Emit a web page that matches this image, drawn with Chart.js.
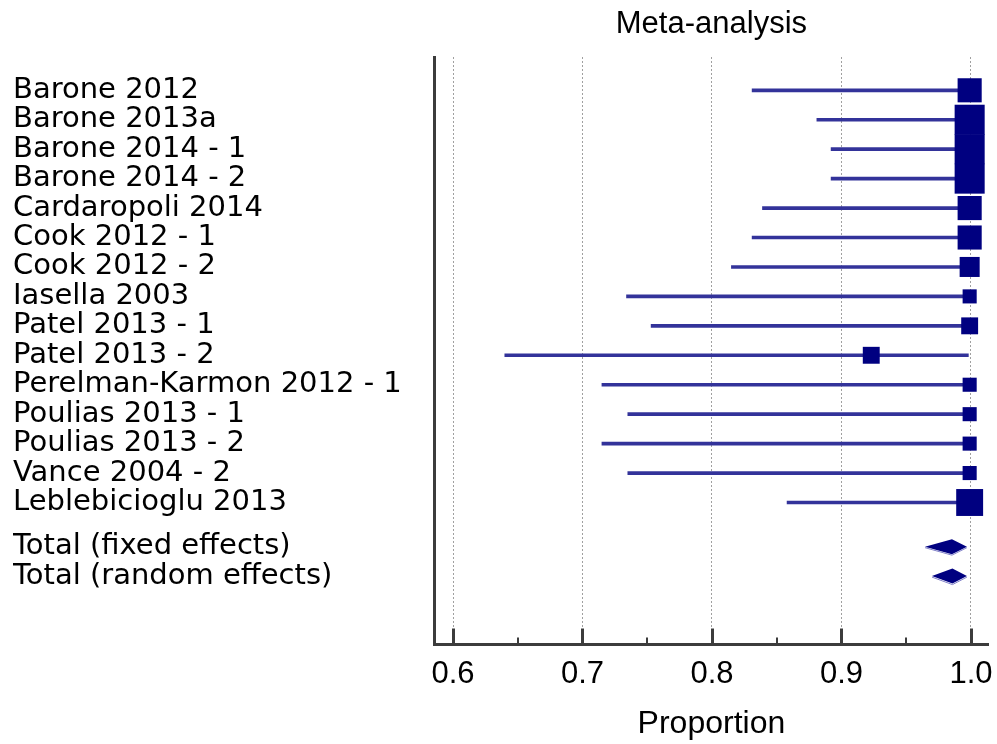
<!DOCTYPE html>
<html>
<head>
<meta charset="utf-8">
<script src="https://cdn.jsdelivr.net/npm/chart.js@4.4.1/dist/chart.umd.min.js"></script>
<style>
html, body { margin: 0; padding: 0; background: #ffffff; }
canvas { display: block; }
</style>
</head>
<body>
<canvas id="c" width="997" height="744"></canvas>
<script>
// ---------- data ----------
const studies = [
  "Barone 2012", "Barone 2013a", "Barone 2014 - 1", "Barone 2014 - 2",
  "Cardaropoli 2014", "Cook 2012 - 1", "Cook 2012 - 2", "Iasella 2003",
  "Patel 2013 - 1", "Patel 2013 - 2", "Perelman-Karmon 2012 - 1",
  "Poulias 2013 - 1", "Poulias 2013 - 2", "Vance 2004 - 2", "Leblebicioglu 2013"
];
const lowerCI   = [0.831, 0.881, 0.892, 0.892, 0.839, 0.831, 0.815, 0.734, 0.753, 0.640, 0.715, 0.735, 0.715, 0.735, 0.858];
const estimates = [0.999, 0.999, 0.999, 0.999, 0.999, 0.999, 0.999, 0.999, 0.999, 0.923, 0.999, 0.999, 0.999, 0.999, 0.999];
const upperCI   = [1.000, 1.000, 1.000, 1.000, 1.000, 1.000, 1.000, 1.000, 1.000, 0.998, 1.000, 1.000, 1.000, 1.000, 1.000];
const weights   = [7.7, 9.6, 9.6, 9.6, 7.7, 7.7, 6.4, 4.5, 5.4, 5.4, 4.5, 4.5, 4.5, 4.5, 8.6];

const totalLabels = ["Total (fixed effects)", "Total (random effects)"];
const totalLower  = [0.9645, 0.9699];
const totalEst    = [0.9853, 0.9857];
const totalUpper  = [0.9969, 0.9969];

const xMajorTicks = [0.6, 0.7, 0.8, 0.9, 1.0];
const xMinorTicks = [0.65, 0.75, 0.85, 0.95];
const chartTitle = "Meta-analysis";
const xAxisTitle = "Proportion";

// ---------- layout helpers ----------
const studyRows = studies.map((_, i) => i + 1);
const totalRows = totalLabels.map((_, j) => studies.length + 1.5 + j);
const rowLabels = new Map();
studyRows.forEach((r, i) => rowLabels.set(r, studies[i]));
totalRows.forEach((r, j) => rowLabels.set(r, totalLabels[j]));
const SQUARE_PX_PER_WEIGHT = 3.13;
const AXIS_COLOR = '#3c3c3c';
const NAVY = '#000080';
const CI_COLOR = '#33339a';
const noPadding = () => ({ left: 0, right: 0, top: 0, bottom: 0 });

const forestExtras = {
  id: 'forestExtras',
  afterDatasetsDraw(chart) {
    const { ctx, chartArea, scales: { x, y } } = chart;
    ctx.save();
    // pooled-estimate diamonds
    totalLabels.forEach((_, j) => {
      const yc = y.getPixelForValue(totalRows[j]);
      const xl = x.getPixelForValue(totalLower[j]);
      const xc = x.getPixelForValue(totalEst[j]);
      const xr = x.getPixelForValue(totalUpper[j]);
      const h = 7.5;
      ctx.beginPath();
      ctx.moveTo(xl, yc + 1);
      ctx.lineTo(xc, yc + h + 1);
      ctx.lineTo(xr, yc + 1);
      ctx.strokeStyle = '#8080c8';
      ctx.lineWidth = 1;
      ctx.stroke();
      ctx.beginPath();
      ctx.moveTo(xl, yc);
      ctx.lineTo(xc, yc - h);
      ctx.lineTo(xr, yc);
      ctx.lineTo(xc, yc + h);
      ctx.closePath();
      ctx.fillStyle = NAVY;
      ctx.fill();
    });
    // inward tick marks on the x axis
    const b = chartArea.bottom;
    ctx.strokeStyle = AXIS_COLOR;
    ctx.lineWidth = 3;
    xMajorTicks.forEach(v => {
      const px = Math.round(x.getPixelForValue(v)) + 0.5;
      ctx.beginPath(); ctx.moveTo(px, b); ctx.lineTo(px, b - 16); ctx.stroke();
    });
    ctx.lineWidth = 2;
    xMinorTicks.forEach(v => {
      const px = Math.round(x.getPixelForValue(v));
      ctx.beginPath(); ctx.moveTo(px, b); ctx.lineTo(px, b - 7); ctx.stroke();
    });
    ctx.restore();
  }
};

new Chart(document.getElementById('c'), {
  type: 'scatter',
  data: {
    datasets: [
      {
        type: 'bar',
        indexAxis: 'y',
        data: studies.map((_, i) => ({ x: [lowerCI[i], upperCI[i]], y: studyRows[i] })),
        backgroundColor: CI_COLOR,
        borderWidth: 0,
        barThickness: 3,
        order: 2
      },
      {
        type: 'scatter',
        data: studies.map((_, i) => ({ x: estimates[i], y: studyRows[i] })),
        pointStyle: 'rect',
        pointRadius: weights.map(w => (w * SQUARE_PX_PER_WEIGHT) / Math.SQRT2),
        pointBackgroundColor: NAVY,
        pointBorderWidth: 0,
        clip: false,
        order: 1
      }
    ]
  },
  options: {
    responsive: false,
    animation: false,
    devicePixelRatio: 1,
    layout: { autoPadding: false, padding: { left: 13, right: 8.7, top: 0, bottom: 0 } },
    plugins: {
      legend: { display: false },
      tooltip: { enabled: false },
      title: {
        display: true,
        text: chartTitle,
        fullSize: false,
        color: '#000',
        font: { family: 'Liberation Sans', size: 31, weight: 'normal', lineHeight: 1.2 },
        padding: { top: 6, bottom: 13.8 }
      }
    },
    scales: {
      x: {
        type: 'linear',
        position: 'bottom',
        offset: false,
        beginAtZero: false,
        min: 0.5857,
        max: 1.0134,
        afterBuildTicks: s => { s.ticks = xMajorTicks.map(v => ({ value: v })); },
        afterFit: s => { s.height = 99.5; s.paddingLeft = 0; s.paddingRight = 0; s.getPadding = noPadding; },
        ticks: {
          autoSkip: false,
          maxRotation: 0,
          padding: 11.4,
          color: '#000',
          font: { family: 'Liberation Sans', size: 31 },
          callback: v => Number(v).toFixed(1)
        },
        grid: { color: '#a0a0a0', lineWidth: 1, drawTicks: false, offset: false },
        border: { display: true, color: AXIS_COLOR, width: 3, dash: [2, 2] },
        title: {
          display: true,
          text: xAxisTitle,
          color: '#000',
          font: { family: 'Liberation Sans', size: 32 },
          padding: { top: 0, bottom: 1 }
        }
      },
      y: {
        type: 'linear',
        position: 'left',
        reverse: true,
        offset: false,
        min: -0.131,
        max: 19.823,
        afterBuildTicks: s => { s.ticks = [...studyRows, ...totalRows].map(v => ({ value: v })); },
        afterFit: s => { s.width = 421.5; s.paddingTop = 0; s.paddingBottom = 0; s.getPadding = noPadding; },
        ticks: {
          autoSkip: false,
          crossAlign: 'far',
          padding: 0,
          color: '#000',
          font: { family: 'DejaVu Sans', size: 29, lineHeight: 1.0 },
          callback: v => rowLabels.get(v) || ''
        },
        grid: { display: false, drawTicks: false, offset: false },
        border: { display: true, color: AXIS_COLOR, width: 3 }
      }
    }
  },
  plugins: [forestExtras]
});
</script>
</body>
</html>
